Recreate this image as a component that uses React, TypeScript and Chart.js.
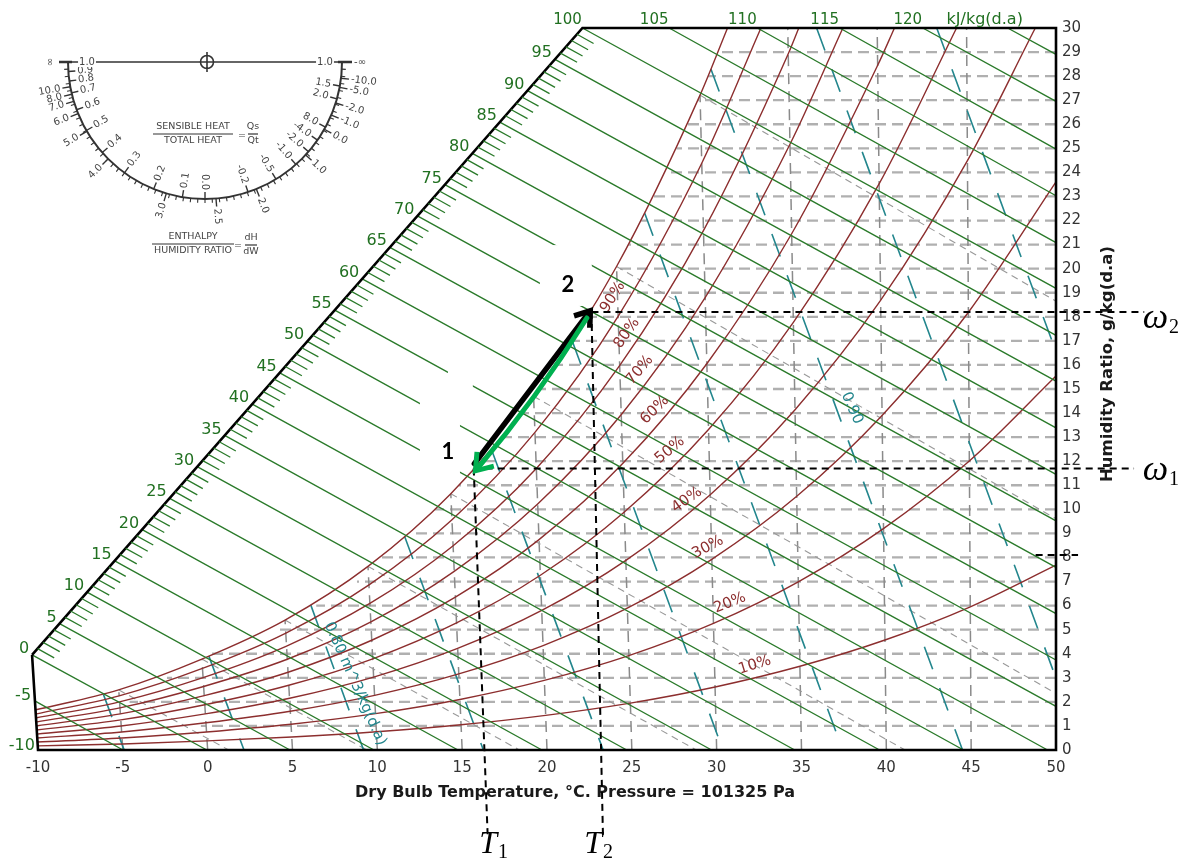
import React, { useEffect, useRef } from "react";
import { Chart, registerables } from "chart.js";

Chart.register(...registerables);

type Pt = [number, number];

// ---------- axes ----------
const tempTicks = [-10, -5, 0, 5, 10, 15, 20, 25, 30, 35, 40, 45, 50];
const humidityTicks = [0, 1, 2, 3, 4, 5, 6, 7, 8, 9, 10, 11, 12, 13, 14, 15, 16, 17, 18, 19, 20, 21, 22, 23, 24, 25, 26, 27, 28, 29, 30];

// chart outline: enthalpy scale edge (h = 0 .. 100), left edge, bottom, right side, top
const frame: Pt[] = [[-10.35, 3.95], [-10, 0], [50, 0], [50, 30], [22.09, 30], [-10.35, 3.95]];

// ---------- relative humidity curves [dry bulb °C, humidity ratio g/kg] ----------
const rh10: Pt[] = [[-10.02, 0.17], [-5.02, 0.25], [-0.03, 0.38], [4.96, 0.54], [9.95, 0.76], [14.93, 1.05], [19.92, 1.44], [24.91, 1.95], [29.91, 2.62], [34.91, 3.48], [39.92, 4.57], [44.95, 5.95], [50, 7.68]];
const rh20: Pt[] = [[-10.04, 0.33], [-5.05, 0.5], [-0.07, 0.75], [4.91, 1.07], [9.89, 1.51], [14.87, 2.1], [19.84, 2.89], [24.82, 3.92], [29.81, 5.26], [34.81, 6.99], [39.83, 9.2], [44.89, 12.01], [50, 15.54]];
const rh30: Pt[] = [[-10.05, 0.5], [-5.07, 0.75], [-0.1, 1.13], [4.87, 1.61], [9.84, 2.27], [14.8, 3.16], [19.77, 4.34], [24.73, 5.89], [29.71, 7.92], [34.72, 10.54], [39.75, 13.9], [44.84, 18.19], [50, 23.61]];
const rh40: Pt[] = [[-10.07, 0.66], [-5.1, 1.0], [-0.14, 1.5], [4.83, 2.15], [9.78, 3.03], [14.73, 4.22], [19.69, 5.8], [24.65, 7.88], [29.62, 10.61], [34.62, 14.14], [39.66, 18.68], [44.78, 24.49], [48.78, 30]];
const rh50: Pt[] = [[-10.09, 0.83], [-5.12, 1.25], [-0.17, 1.88], [4.78, 2.69], [9.73, 3.79], [14.67, 5.28], [19.61, 7.26], [24.56, 9.89], [29.52, 13.32], [34.52, 17.77], [39.58, 23.53], [44.14, 30]];
const rh60: Pt[] = [[-10.11, 1.0], [-5.15, 1.5], [-0.2, 2.26], [4.74, 3.23], [9.67, 4.56], [14.6, 6.35], [19.53, 8.74], [24.46, 11.9], [29.42, 16.05], [34.42, 21.45], [39.49, 28.45], [40.48, 30]];
const rh70: Pt[] = [[-10.13, 1.16], [-5.17, 1.75], [-0.24, 2.64], [4.69, 3.77], [9.62, 5.32], [14.53, 7.42], [19.45, 10.22], [24.37, 13.93], [29.32, 18.8], [34.32, 25.17], [37.44, 30]];
const rh80: Pt[] = [[-10.14, 1.33], [-5.2, 2.0], [-0.27, 3.01], [4.65, 4.32], [9.56, 6.09], [14.47, 8.49], [19.37, 11.7], [24.28, 15.97], [29.22, 21.58], [34.22, 28.93], [34.84, 30]];
const rh90: Pt[] = [[-10.16, 1.49], [-5.22, 2.25], [-0.31, 3.39], [4.61, 4.86], [9.51, 6.86], [14.4, 9.57], [19.29, 13.2], [24.19, 18.02], [29.12, 24.38], [32.61, 30]];
const rh100: Pt[] = [[-10.18, 1.66], [-5.25, 2.5], [-0.34, 3.78], [4.56, 5.4], [9.45, 7.63], [14.33, 10.65], [19.21, 14.7], [24.1, 20.09], [29.02, 27.21], [30.64, 30]];
const rhCurves = [rh10, rh20, rh30, rh40, rh50, rh60, rh70, rh80, rh90, rh100];

const rhLabels = ["10%", "20%", "30%", "40%", "50%", "60%", "70%", "80%", "90%"];
const rhLabelAt: Pt[] = [[32.25, 3.53], [30.78, 6.11], [29.48, 8.43], [28.24, 10.39], [27.24, 12.46], [26.36, 14.13], [25.47, 15.79], [24.71, 17.32], [23.88, 18.82]];
const rhLabelAngle = [-17, -22, -28, -35, -40, -45, -50, -55, -58];

// ---------- enthalpy lines, kJ/kg(d.a) ----------
const enthalpyValues = [-5, 0, 5, 10, 15, 20, 25, 30, 35, 40, 45, 50, 55, 60, 65, 70, 75, 80, 85, 90, 95, 100, 105, 110, 115, 120, 125];
const enthalpyStart: Pt[] = [[-10.19, 2.04], [-10.35, 3.95], [-8.73, 5.25], [-7.11, 6.56], [-5.48, 7.86], [-3.86, 9.16], [-2.24, 10.46], [-0.62, 11.77], [1.0, 13.07], [2.63, 14.37], [4.25, 15.67], [5.87, 16.98], [7.49, 18.28], [9.11, 19.58], [10.74, 20.88], [12.36, 22.19], [13.98, 23.49], [15.6, 24.79], [17.22, 26.09], [18.85, 27.4], [20.47, 28.7], [22.09, 30], [27.2, 30], [32.4, 30], [37.25, 30], [42.15, 30], [47.15, 30]];
const enthalpyEnd: Pt[] = [[-4.99, 0], [-0.05, 0], [4.85, 0], [9.8, 0], [14.75, 0], [19.7, 0], [24.7, 0], [29.7, 0], [34.6, 0], [39.6, 0], [44.55, 0], [49.5, 0], [50, 1.81], [50, 3.74], [50, 5.67], [50, 7.59], [50, 9.52], [50, 11.45], [50, 13.38], [50, 15.33], [50, 17.23], [50, 19.18], [50, 21.08], [50, 23.03], [50, 24.97], [50, 26.95], [50, 28.9]];
const enthalpyScaleLabels = [0, 5, 10, 15, 20, 25, 30, 35, 40, 45, 50, 55, 60, 65, 70, 75, 80, 85, 90, 95];
const enthalpyEdgeLabels: [string, Pt][] = [["-5", [-10.35, 2.08]], ["-10", [-10.12, 0]]];
const enthalpyTopLabels = [100, 105, 110, 115, 120];
const enthalpyUnitAt: Pt = [45.8, 30];

// ---------- specific volume lines, m^3/kg(d.a) ----------
const volumeValues = [0.76, 0.78, 0.8, 0.82, 0.84, 0.86, 0.88, 0.9, 0.92, 0.94];
const volumeStart: Pt[] = [[-6.14, 2.3], [0.07, 3.9], [6.08, 6.02], [11.61, 8.87], [16.72, 12.5], [21.51, 16.95], [25.76, 22.3], [29.66, 28.3], [35.89, 30], [42.97, 30]];
const volumeEnd: Pt[] = [[-4.92, 0], [2.14, 0], [9.19, 0], [16.25, 0], [23.31, 0], [30.37, 0], [37.43, 0], [44.49, 0], [50, 2.98], [50, 16.55]];

// ---------- wet bulb lines ----------
const wetBulbTemps = [-5, 0, 5, 10, 15, 20, 25, 30];
const wetBulbStart: Pt[] = [[-5.25, 2.5], [-0.34, 3.78], [4.56, 5.4], [9.45, 7.63], [14.33, 10.65], [19.21, 14.7], [24.1, 20.09], [29.02, 27.21]];
const wetBulbEnd: Pt[] = [[1.24, 0], [9.38, 0], [18.37, 0], [28.8, 0], [41.1, 0], [50, 2.35], [50, 9.61], [50, 18.65]];

// ---------- grid ----------
const gridHumidity = [1, 2, 3, 4, 5, 6, 7, 8, 9, 10, 11, 12, 13, 14, 15, 16, 17, 18, 19, 20, 21, 22, 23, 24, 25, 26, 27, 28, 29];
const gridHumidityFrom = [-0.4, -4.6, -2.4, 0.0, 4.2, 6.4, 8.8, 10.2, 12.0, 13.39, 14.81, 16.12, 17.33, 18.46, 19.51, 20.51, 21.46, 22.36, 23.21, 24.03, 24.8, 25.55, 26.27, 26.97, 27.63, 28.27, 28.89, 29.49, 30.08];
const gridTemps = [-5, 0, 5, 10, 15, 20, 25, 30, 35, 40, 45];
const gridTempTop: Pt[] = [[-5.23, 2.4], [-0.34, 3.78], [4.56, 5.4], [9.45, 7.63], [14.33, 10.65], [19.21, 14.7], [24.1, 20.09], [29.02, 27.21], [34.19, 30], [39.46, 30], [44.73, 30]];

// ---------- process 1 -> 2 ----------
const state1: Pt = [15.68, 11.7];
const state2: Pt = [22.62, 18.2];
const omegaLineEnd = [54.6, 55.2];
const t1Drop: Pt = [16.5, -3.5];
const t2Drop: Pt = [23.3, -3.6];
const stubLine: Pt[] = [[48.8, 8.1], [51.3, 8.1]];
const heatArrow: Pt[] = [[15.72, 11.9], [22.55, 18.25]];
const coolArrow: Pt[] = [[22.35, 17.95], [15.78, 11.6]];
const stateLabels: [string, Pt][] = [["1", [14.16, 12.38]], ["2", [21.23, 19.32]]];
const labelMasks = [[19.58, 18.45, 22.64, 20.98], [12.51, 11.43, 14.87, 14.75], [14.16, 14.54, 15.63, 15.79]];
const symbolLabels: [string, string, Pt][] = [["T", "1", [16.0, -4.28]], ["T", "2", [22.2, -4.28]], ["ω", "2", [55.11, 17.53]], ["ω", "1", [55.11, 11.22]]];

// ---------- sensible heat ratio protractor ----------
const protractorInner: [string, number][] = [["0.9", 176], ["0.8", 172], ["0.7", 167], ["0.6", 159.6], ["0.5", 150], ["0.4", 138.6], ["0.3", 126], ["0.2", 112], ["0.1", 99.5], ["0.0", 90], ["-0.2", 71.7], ["-0.5", 58.8], ["-1.0", 48.4], ["-2.0", 40.9], ["-4.0", 34.8], ["8.0", 28.4], ["2.0", 15.6], ["1.5", 10.1]];
const protractorOuter: [string, number][] = [["10.0", 169.6], ["8.0", 166.4], ["7.0", 163.3], ["6.0", 157.9], ["5.0", 149.6], ["4.0", 135], ["3.0", 106.4], ["2.5", 85.4], ["2.0", 68], ["1.0", 42.7], ["0.0", 29.4], ["-1.0", 22.8], ["-2.0", 17.4], ["-5.0", 10.7], ["-10.0", 6.8]];

const GREEN = "#2a7a2a";
const GREEN_TEXT = "#217021";
const RED = "#8c2e2e";
const TEAL = "#23868d";
const FONT = '"DejaVu Sans", Verdana, sans-serif';
const MATH_FONT = '"Liberation Serif", "DejaVu Serif", serif';

const toXY = (pts: Pt[]) => pts.map(([x, y]) => ({ x, y }));
const joinSegments = (starts: Pt[], ends: Pt[]) => {
  const out: any[] = [];
  starts.forEach((s, i) => {
    const e = ends[i];
    out.push({ x: s[0], y: s[1] }, { x: e[0], y: e[1] }, { x: e[0], y: null });
  });
  return out;
};

function drawProtractor(ctx: CanvasRenderingContext2D) {
  const cx = 205, cy = 62, r = 137;
  ctx.save();
  ctx.strokeStyle = "#333";
  ctx.fillStyle = "#444";
  ctx.lineWidth = 2;
  ctx.beginPath();
  ctx.arc(cx, cy, r, 0, Math.PI);
  ctx.stroke();
  ctx.lineWidth = 1.5;
  ctx.beginPath();
  ctx.moveTo(cx - r - 6, cy);
  ctx.lineTo(cx + r + 8, cy);
  ctx.stroke();
  ctx.lineWidth = 2.6;
  ctx.beginPath();
  ctx.moveTo(cx - r - 9, cy);
  ctx.lineTo(cx - r + 4, cy);
  ctx.moveTo(cx + r - 4, cy);
  ctx.lineTo(cx + r + 10, cy);
  ctx.stroke();
  // minor ticks
  ctx.lineWidth = 1.1;
  ctx.beginPath();
  for (let a = 3; a < 178; a += 3) {
    const t = (a * Math.PI) / 180;
    ctx.moveTo(cx + r * Math.cos(t), cy + r * Math.sin(t));
    ctx.lineTo(cx + (r + 4) * Math.cos(t), cy + (r + 4) * Math.sin(t));
  }
  ctx.stroke();
  ctx.font = `10px ${FONT}`;
  ctx.textAlign = "center";
  ctx.textBaseline = "middle";
  const place = (text: string, a: number, outer: boolean) => {
    const t = (a * Math.PI) / 180;
    ctx.lineWidth = 1.4;
    ctx.beginPath();
    const r2 = outer ? r + 8 : r - 7;
    ctx.moveTo(cx + r * Math.cos(t), cy + r * Math.sin(t));
    ctx.lineTo(cx + r2 * Math.cos(t), cy + r2 * Math.sin(t));
    ctx.stroke();
    const w = ctx.measureText(text).width;
    const rt = outer ? r + 10 + w / 2 : r - 9 - w / 2;
    ctx.save();
    ctx.translate(cx + rt * Math.cos(t), cy + rt * Math.sin(t));
    const rot = a > 95 ? a - 180 : a;
    ctx.rotate((rot * Math.PI) / 180);
    ctx.fillText(text, 0, 0);
    ctx.restore();
  };
  protractorInner.forEach(([s, a]) => place(s, a, false));
  protractorOuter.forEach(([s, a]) => place(s, a, true));
  // end labels on the diameter
  const plate = (text: string, x: number) => {
    const w = ctx.measureText(text).width;
    ctx.fillStyle = "#fff";
    ctx.fillRect(x - w / 2 - 1, cy - 5, w + 2, 10);
    ctx.fillStyle = "#444";
    ctx.fillText(text, x, cy);
  };
  plate("1.0", 87);
  plate("1.0", 325);
  ctx.save();
  ctx.translate(50, cy);
  ctx.rotate(-Math.PI / 2);
  ctx.fillText("∞", 0, 0);
  ctx.restore();
  ctx.fillText("-∞", 360, cy);
  // centre mark
  ctx.lineWidth = 1.6;
  ctx.beginPath();
  ctx.arc(207, cy, 6.5, 0, Math.PI * 2);
  ctx.moveTo(207, cy - 10);
  ctx.lineTo(207, cy + 10);
  ctx.stroke();
  // fractions
  ctx.font = `9.5px ${FONT}`;
  const fraction = (top: string, bottom: string, x: number, y: number, width: number) => {
    ctx.fillText(top, x, y - 7);
    ctx.fillText(bottom, x, y + 7);
    ctx.lineWidth = 1.2;
    ctx.beginPath();
    ctx.moveTo(x - width / 2, y);
    ctx.lineTo(x + width / 2, y);
    ctx.stroke();
  };
  fraction("SENSIBLE HEAT", "TOTAL HEAT", 193, 134, 80);
  ctx.fillText("=", 242, 136);
  fraction("Qs", "Qt", 253, 134, 10);
  fraction("ENTHALPY", "HUMIDITY RATIO", 193, 244, 82);
  ctx.fillText("=", 238, 246);
  fraction("dH", "dW", 251, 245, 12);
  ctx.restore();
}

function drawArrow(ctx: CanvasRenderingContext2D, a: Pt, b: Pt, color: string, width: number, bend: number, head: number) {
  const mx = (a[0] + b[0]) / 2, my = (a[1] + b[1]) / 2;
  const dx = b[0] - a[0], dy = b[1] - a[1];
  const len = Math.hypot(dx, dy);
  const nx = -dy / len, ny = dx / len;
  const qx = mx + nx * bend, qy = my + ny * bend;
  const ang = Math.atan2(b[1] - qy, b[0] - qx);
  const ex = b[0] - Math.cos(ang) * 3, ey = b[1] - Math.sin(ang) * 3;
  ctx.strokeStyle = color;
  ctx.lineWidth = width;
  ctx.lineCap = "round";
  ctx.beginPath();
  ctx.moveTo(a[0], a[1]);
  ctx.quadraticCurveTo(qx, qy, ex, ey);
  ctx.stroke();
  ctx.lineJoin = "miter";
  ctx.lineCap = "butt";
  ctx.beginPath();
  ctx.moveTo(b[0] + Math.cos(ang + Math.PI - 0.62) * head, b[1] + Math.sin(ang + Math.PI - 0.62) * head);
  ctx.lineTo(b[0], b[1]);
  ctx.lineTo(b[0] + Math.cos(ang + Math.PI + 0.62) * head, b[1] + Math.sin(ang + Math.PI + 0.62) * head);
  ctx.stroke();
}

const decorPlugin = {
  id: "psychroDecor",
  afterDraw(chart: any) {
    const { ctx } = chart;
    const xs = chart.scales.x;
    const ys = chart.scales.y;
    const P = (p: Pt): Pt => [xs.getPixelForValue(p[0]), ys.getPixelForValue(p[1])];
    ctx.save();

    // white panels behind the state numbers
    ctx.fillStyle = "#ffffff";
    for (const [t0, w0, t1, w1] of labelMasks) {
      const a = P([t0, w0]);
      const b = P([t1, w1]);
      ctx.fillRect(Math.min(a[0], b[0]), Math.min(a[1], b[1]), Math.abs(b[0] - a[0]), Math.abs(b[1] - a[1]));
    }

    // enthalpy scale ticks along the slanted edge
    const d0 = P(frame[0]);
    const d1 = P(frame[4]);
    const r0 = P(enthalpyStart[11]);
    const r1 = P(enthalpyEnd[11]);
    const rl = Math.hypot(r1[0] - r0[0], r1[1] - r0[1]);
    const ux = (r1[0] - r0[0]) / rl, uy = (r1[1] - r0[1]) / rl;
    ctx.strokeStyle = GREEN;
    ctx.lineWidth = 1.3;
    ctx.beginPath();
    for (let k = 1; k < 100; k++) {
      if (k % 5 === 0) continue;
      const x = d0[0] + ((d1[0] - d0[0]) * k) / 100;
      const y = d0[1] + ((d1[1] - d0[1]) * k) / 100;
      ctx.moveTo(x, y);
      ctx.lineTo(x + ux * 19, y + uy * 19);
    }
    ctx.stroke();

    // enthalpy labels
    ctx.fillStyle = GREEN_TEXT;
    ctx.font = `16px ${FONT}`;
    ctx.textAlign = "right";
    ctx.textBaseline = "alphabetic";
    for (const h of enthalpyScaleLabels) {
      const x = d0[0] + ((d1[0] - d0[0]) * h) / 100;
      const y = d0[1] + ((d1[1] - d0[1]) * h) / 100;
      ctx.fillText(String(h), x - 3, y - 2);
    }
    for (const [s, p] of enthalpyEdgeLabels) {
      const q = P(p);
      ctx.fillText(s, q[0] - 1, q[1]);
    }
    ctx.textAlign = "center";
    ctx.font = `15px ${FONT}`;
    for (const h of enthalpyTopLabels) {
      const q = P(enthalpyStart[enthalpyValues.indexOf(h)]);
      ctx.fillText(String(h), q[0] - 15, q[1] - 4);
    }
    const ku = P(enthalpyUnitAt);
    ctx.font = `16px ${FONT}`;
    ctx.fillText("kJ/kg(d.a)", ku[0], ku[1] - 4);

    // relative humidity labels
    ctx.fillStyle = RED;
    ctx.font = `15px ${FONT}`;
    ctx.textBaseline = "middle";
    rhLabels.forEach((s, i) => {
      const q = P(rhLabelAt[i]);
      ctx.save();
      ctx.translate(q[0], q[1]);
      ctx.rotate((rhLabelAngle[i] * Math.PI) / 180);
      ctx.fillText(s, 0, 0);
      ctx.restore();
    });

    // volume labels
    ctx.fillStyle = TEAL;
    const v90 = P([37.97, 14.2]);
    ctx.save();
    ctx.translate(v90[0], v90[1]);
    ctx.rotate((66 * Math.PI) / 180);
    ctx.fillText("0.90", 0, 0);
    ctx.restore();
    const v80 = P([7.09, 5.28]);
    ctx.save();
    ctx.translate(v80[0], v80[1]);
    ctx.rotate((66 * Math.PI) / 180);
    ctx.textAlign = "left";
    ctx.fillText("0.80 m^3/kg(d.a)", 0, 0);
    ctx.restore();

    drawProtractor(ctx);

    // axis titles
    ctx.fillStyle = "#1a1a1a";
    ctx.font = `bold 16px ${FONT}`;
    ctx.textAlign = "center";
    ctx.textBaseline = "middle";
    ctx.fillText("Dry Bulb Temperature, °C. Pressure = 101325 Pa", 575, 793);
    ctx.save();
    ctx.translate(1108, 364);
    ctx.rotate(-Math.PI / 2);
    ctx.font = `bold 16.5px ${FONT}`;
    ctx.fillText("Humidity Ratio, g/kg(d.a)", 0, 0);
    ctx.restore();

    // process construction lines
    ctx.strokeStyle = "#000";
    ctx.lineWidth = 2;
    ctx.setLineDash([7, 5]);
    const dashed = (a: Pt, b: Pt) => {
      const p = P(a), q = P(b);
      ctx.beginPath();
      ctx.moveTo(p[0], p[1]);
      ctx.lineTo(q[0], q[1]);
      ctx.stroke();
    };
    dashed(state1, [omegaLineEnd[0], state1[1]]);
    dashed(state2, [omegaLineEnd[1], state2[1]]);
    dashed(state1, t1Drop);
    dashed(state2, t2Drop);
    dashed(stubLine[0], stubLine[1]);
    ctx.setLineDash([]);

    drawArrow(ctx, P(heatArrow[0]), P(heatArrow[1]), "#000000", 5.5, 0, 17);
    drawArrow(ctx, P(coolArrow[0]), P(coolArrow[1]), "#00b050", 5, -7, 19);

    // state numbers
    ctx.fillStyle = "#000";
    ctx.font = 'bold 22px Lato, "Liberation Sans", sans-serif';
    ctx.textAlign = "center";
    ctx.textBaseline = "middle";
    for (const [s, p] of stateLabels) {
      const q = P(p);
      ctx.fillText(s, q[0], q[1]);
    }

    // symbols T1, T2, w1, w2
    ctx.textAlign = "left";
    ctx.textBaseline = "alphabetic";
    for (const [main, sub, p] of symbolLabels) {
      const q = P(p);
      ctx.font = `italic ${main === "T" ? 32 : 36}px ${MATH_FONT}`;
      ctx.fillText(main, q[0], q[1]);
      const w = ctx.measureText(main).width;
      ctx.font = `20px ${MATH_FONT}`;
      ctx.fillText(sub, q[0] + w + 1, q[1] + 5);
    }
    ctx.restore();
  },
};

export default function App() {
  const canvasRef = useRef<HTMLCanvasElement | null>(null);

  useEffect(() => {
    if (!canvasRef.current) return;
    const line = (data: any[], color: string, width: number, dash: number[] = [], extra: any = {}) => ({
      data,
      showLine: true,
      borderColor: color,
      borderWidth: width,
      borderDash: dash,
      pointRadius: 0,
      pointHoverRadius: 0,
      fill: false,
      tension: 0,
      ...extra,
    });

    const datasets: any[] = [
      line(toXY(frame), "#000000", 2.6, [], { clip: false, borderJoinStyle: "miter" }),
      line(joinSegments(enthalpyStart, enthalpyEnd), GREEN, 1.4, [], { clip: false }),
      ...rhCurves.map((c) => line(toXY(c), RED, 1.4, [], { cubicInterpolationMode: "monotone", clip: false })),
      line(joinSegments(volumeStart, volumeEnd), TEAL, 1.6, [24, 20]),
      line(joinSegments(wetBulbStart, wetBulbEnd), "#999999", 1.1, [7, 5]),
      line(joinSegments(gridTemps.map((t) => [t, 0] as Pt), gridTempTop), "#8a8a8a", 1.5, [11, 7]),
      line(joinSegments(gridHumidity.map((w) => [50, w] as Pt), gridHumidity.map((w, i) => [gridHumidityFrom[i], w] as Pt)), "#b0b0b0", 2.3, [11, 6]),
    ];

    const chart = new Chart(canvasRef.current, {
      type: "scatter",
      data: { datasets },
      options: {
        responsive: false,
        animation: false,
        events: [],
        layout: { padding: { left: 38, top: 28, right: 0, bottom: 0 } },
        plugins: { legend: { display: false }, tooltip: { enabled: false } },
        scales: {
          x: {
            type: "linear",
            position: "bottom",
            min: -10,
            max: 50,
            afterBuildTicks: (s: any) => {
              s.ticks = tempTicks.map((v) => ({ value: v }));
            },
            afterFit: (s: any) => {
              s.height = 109;
            },
            grid: { display: false, drawTicks: false },
            border: { display: false },
            ticks: { padding: 9, color: "#333", font: { family: FONT, size: 15 }, autoSkip: false, maxRotation: 0 },
          },
          y: {
            type: "linear",
            position: "right",
            min: 0,
            max: 30,
            afterBuildTicks: (s: any) => {
              s.ticks = humidityTicks.map((v) => ({ value: v }));
            },
            afterFit: (s: any) => {
              s.width = 125;
            },
            grid: { display: false, drawTicks: false },
            border: { display: false },
            ticks: { padding: 6, color: "#333", font: { family: FONT, size: 15 }, autoSkip: false },
          },
        },
      },
      plugins: [decorPlugin],
    });
    return () => chart.destroy();
  }, []);

  return (
    <div style={{ position: "absolute", left: 0, top: 0, width: 1181, height: 859, background: "#fff" }}>
      <canvas ref={canvasRef} width={1181} height={859} />
    </div>
  );
}
